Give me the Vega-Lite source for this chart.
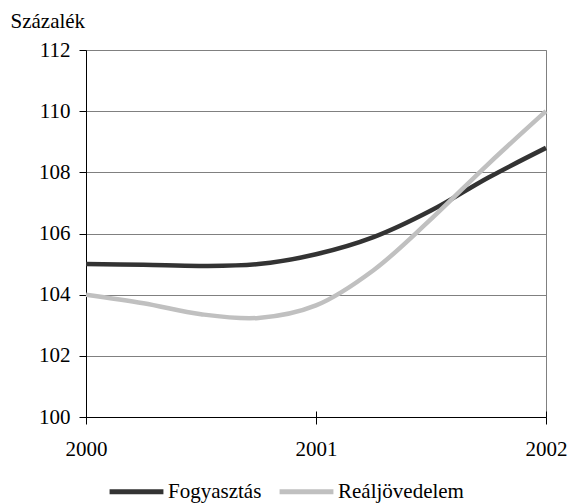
{
  "$schema": "https://vega.github.io/schema/vega-lite/v6.json",
  "width": 460,
  "height": 367,
  "autosize": {"type": "none"},
  "padding": {"left": 86, "top": 50, "right": 21, "bottom": 86},
  "config": {
    "view": {"stroke": "#808080"},
    "font": "Liberation Serif"
  },
  "data": {"values": [
    {"year": 2000, "series": "Fogyasztás", "value": 105.0},
    {"year": 2000.25, "series": "Fogyasztás", "value": 104.98},
    {"year": 2000.5, "series": "Fogyasztás", "value": 104.94},
    {"year": 2000.75, "series": "Fogyasztás", "value": 105.0},
    {"year": 2001, "series": "Fogyasztás", "value": 105.32},
    {"year": 2001.25, "series": "Fogyasztás", "value": 105.88},
    {"year": 2001.5, "series": "Fogyasztás", "value": 106.75},
    {"year": 2001.75, "series": "Fogyasztás", "value": 107.83},
    {"year": 2002, "series": "Fogyasztás", "value": 108.8},
    {"year": 2000, "series": "Reáljövedelem", "value": 104.0},
    {"year": 2000.25, "series": "Reáljövedelem", "value": 103.72},
    {"year": 2000.5, "series": "Reáljövedelem", "value": 103.36},
    {"year": 2000.75, "series": "Reáljövedelem", "value": 103.24},
    {"year": 2001, "series": "Reáljövedelem", "value": 103.65},
    {"year": 2001.25, "series": "Reáljövedelem", "value": 104.8},
    {"year": 2001.5, "series": "Reáljövedelem", "value": 106.47},
    {"year": 2001.75, "series": "Reáljövedelem", "value": 108.28},
    {"year": 2002, "series": "Reáljövedelem", "value": 110.0}
  ]},
  "resolve": {"axis": {"x": "independent"}},
  "layer": [
    {
      "mark": {"type": "line", "interpolate": "catmull-rom", "strokeWidth": 4.5},
      "encoding": {
        "x": {
          "field": "year", "type": "quantitative",
          "scale": {"domain": [2000, 2002], "nice": false, "zero": false},
          "axis": {"orient": "bottom", "tickCount": 2, "labelExpr": "'' + round(datum.value)", "title": null, "grid": false,
                   "domain": true, "domainColor": "black", "tickSize": 7, "tickColor": "black",
                   "labelFlush": false, "labelOverlap": false, "labelBound": false,
                   "labelFontSize": 21, "labelColor": "black", "labelPadding": 14}
        },
        "y": {
          "field": "value", "type": "quantitative",
          "scale": {"domain": [100, 112], "nice": false, "zero": false},
          "axis": {"values": [100, 102, 104, 106, 108, 110, 112], "title": "Százalék", "titleAngle": 0,
                   "titleAlign": "left", "titleBaseline": "alphabetic", "titleX": -76, "titleY": -23,
                   "titleFontSize": 21, "titleFontWeight": "normal", "titleColor": "black",
                   "gridColor": "#808080", "gridOpacity": 1, "domainColor": "black", "tickColor": "black",
                   "tickSize": 7, "labelFontSize": 21, "labelColor": "black", "labelPadding": 9}
        },
        "color": {
          "field": "series", "type": "nominal",
          "scale": {"domain": ["Fogyasztás", "Reáljövedelem"], "range": ["#333333", "#c0c0c0"]},
          "legend": {"orient": "none", "legendX": 21, "legendY": 412, "direction": "horizontal", "title": null,
                     "symbolType": "stroke", "symbolSize": 2900, "symbolStrokeWidth": 5, "labelFontSize": 21,
                     "labelColor": "black", "labelOffset": 2, "columnPadding": 7}
        }
      }
    },
    {
      "mark": {"type": "line", "opacity": 0},
      "encoding": {
        "x": {
          "field": "year", "type": "quantitative",
          "axis": {"orient": "bottom", "tickCount": 2, "title": null, "grid": false, "domain": false,
                   "labels": false, "tickSize": -6, "tickColor": "black"}
        },
        "y": {"field": "value", "type": "quantitative"},
        "detail": {"field": "series"}
      }
    }
  ]
}
